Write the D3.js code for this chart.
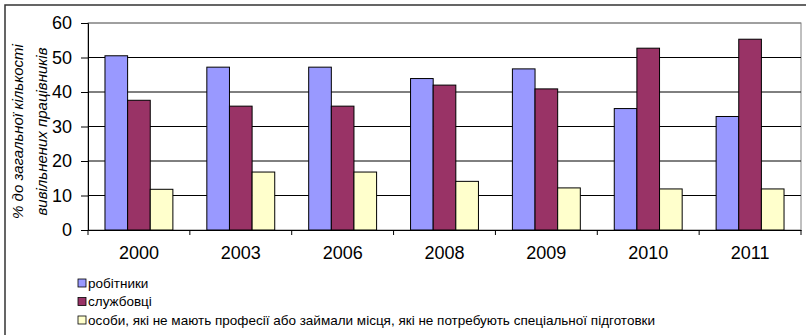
<!DOCTYPE html>
<html>
<head>
<meta charset="utf-8">
<script src="https://cdn.jsdelivr.net/npm/d3@7"></script>
<style>
  html, body { margin: 0; padding: 0; background: #fff; }
  svg { display: block; font-family: "Liberation Sans", Arial, sans-serif; }
</style>
</head>
<body>
<svg id="chart" width="806" height="335"></svg>
<script>
// Роки спостереження
const years = ["2000", "2003", "2006", "2008", "2009", "2010", "2011"];
// Назви категорій вивільнених працівників
const seriesNames = [
  "робітники",
  "службовці",
  "особи, які не мають професії або займали місця, які не потребують спеціальної підготовки"
];
// Частка, % до загальної кількості вивільнених працівників
const workers   = [50.5, 47.2, 47.2, 43.9, 46.7, 35.2, 32.9];
const employees = [37.6, 35.9, 35.9, 42.0, 40.9, 52.7, 55.3];
const unskilled = [11.8, 16.8, 16.8, 14.1, 12.2, 11.9, 11.9];
const yTicks = [0, 10, 20, 30, 40, 50, 60];
const colors = ["#9999FF", "#993366", "#FFFFCC"];
const yTitle = ["% до загальної кількості", "вивільнених працівників"];

const series = [workers, employees, unskilled];

const svg = d3.select("#chart");
const plot = { left: 88, right: 801, top: 23, bottom: 230 };

// Зовнішня рамка діаграми
svg.append("rect")
  .attr("x", 5).attr("y", 5)
  .attr("width", 820).attr("height", 350)
  .attr("fill", "none").attr("stroke", "#333").attr("stroke-width", 1.5);

const x = d3.scaleBand().domain(years).range([plot.left, plot.right]).padding(0);
const xs = d3.scaleBand().domain(d3.range(series.length))
  .range([0, x.bandwidth()]).paddingInner(0).paddingOuter(0.75);
const y = d3.scaleLinear().domain([0, 60]).range([plot.bottom, plot.top]);

// Рамка області побудови
svg.append("rect")
  .attr("x", plot.left).attr("y", plot.top)
  .attr("width", plot.right - plot.left).attr("height", plot.bottom - plot.top)
  .attr("fill", "none").attr("stroke", "#808080").attr("stroke-width", 1);

// Лінії сітки
svg.append("g").selectAll("line")
  .data(yTicks.filter(d => d > 0))
  .join("line")
  .attr("x1", plot.left).attr("x2", plot.right)
  .attr("y1", d => y(d)).attr("y2", d => y(d))
  .attr("stroke", d => d === 60 ? "#808080" : "#000").attr("stroke-width", 1);

// Стовпчики
const groups = svg.append("g").selectAll("g")
  .data(years)
  .join("g")
  .attr("transform", d => `translate(${x(d)},0)`);

groups.selectAll("rect")
  .data((yr, i) => series.map((s, k) => ({ k, v: s[i] })))
  .join("rect")
  .attr("x", d => xs(d.k))
  .attr("width", xs.bandwidth())
  .attr("y", d => y(d.v))
  .attr("height", d => y(0) - y(d.v))
  .attr("fill", d => colors[d.k])
  .attr("stroke", "#000").attr("stroke-width", 1);

// Вісь Y
const yAxis = svg.append("g")
  .attr("transform", `translate(${plot.left},0)`)
  .call(d3.axisLeft(y).tickValues(yTicks).tickSize(7).tickPadding(9).tickFormat(d3.format("d")));
yAxis.select(".domain").attr("stroke", "#000");
yAxis.selectAll(".tick line").attr("stroke", "#000");
yAxis.selectAll(".tick text")
  .attr("font-size", 18).attr("fill", "#000")
  .attr("font-family", "'Liberation Sans', Arial, sans-serif");

// Вісь X
const xAxis = svg.append("g")
  .attr("transform", `translate(0,${plot.bottom})`)
  .call(d3.axisBottom(x).tickSize(0).tickPadding(16));
xAxis.select(".domain").attr("stroke", "#000");
xAxis.selectAll(".tick text")
  .attr("font-size", 18).attr("fill", "#000")
  .attr("font-family", "'Liberation Sans', Arial, sans-serif");

// Поділки між категоріями
svg.append("g").selectAll("line")
  .data(years.map(d => x(d)).concat([plot.right]))
  .join("line")
  .attr("x1", d => d).attr("x2", d => d)
  .attr("y1", plot.bottom).attr("y2", plot.bottom + 5)
  .attr("stroke", "#000");

// Назва осі Y
const yt = svg.append("text")
  .attr("transform", `translate(18,${(plot.top + plot.bottom) / 2 + 5}) rotate(-90)`)
  .attr("text-anchor", "middle")
  .attr("font-size", 15).attr("font-style", "italic").attr("fill", "#000");
yt.selectAll("tspan")
  .data(yTitle)
  .join("tspan")
  .attr("x", 0)
  .attr("dy", (d, i) => i === 0 ? "0.35em" : "1.6em")
  .text(d => d);

// Легенда
const legend = svg.append("g").attr("transform", "translate(78,283)");
const rows = legend.selectAll("g")
  .data(seriesNames)
  .join("g")
  .attr("transform", (d, i) => `translate(0,${i * 18.5})`);
rows.append("rect")
  .attr("x", 0).attr("y", -4).attr("width", 8).attr("height", 8)
  .attr("fill", (d, i) => colors[i]).attr("stroke", "#000").attr("stroke-width", 0.8);
rows.append("text")
  .attr("x", 10).attr("y", 0).attr("dy", "0.35em")
  .attr("font-size", 13.5).attr("fill", "#000")
  .text(d => d);
</script>
</body>
</html>
